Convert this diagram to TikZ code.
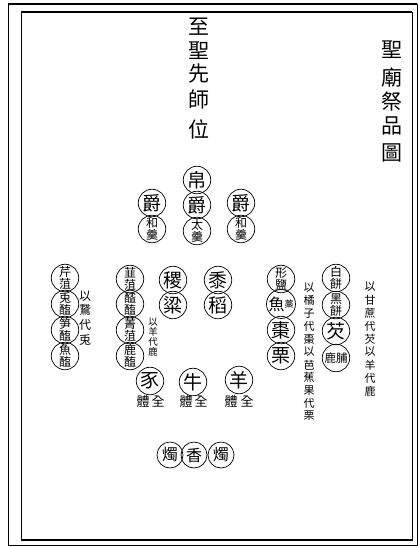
\documentclass[tikz,border=0pt]{standalone}
\usepackage{fontspec}
\newfontfamily\cjk{Noto Sans CJK TC}
\begin{document}
\begin{tikzpicture}[x=1pt,y=-1pt,
  ring/.style={circle,draw,line width=0.7pt,minimum size=27.5pt,inner sep=0pt,align=center},
  big/.style={font=\cjk\fontsize{19}{19}\selectfont},
  mid/.style={font=\cjk\fontsize{16}{16}\selectfont},
  pair/.style={font=\cjk\fontsize{12}{12}\selectfont},
  note/.style={inner sep=0pt,font=\cjk\fontsize{11}{11}\selectfont},
  title/.style={inner sep=0pt,font=\cjk\fontsize{21}{21}\selectfont},
  label/.style={inner sep=0pt,font=\cjk\fontsize{13}{13}\selectfont},
]
\useasboundingbox (0,0) rectangle (418,547);
\fill[white] (0,0) rectangle (418,547);
% frame
\draw[line width=0.8pt] (8,4) rectangle (417,545);
\draw[line width=1.6pt] (8,4) -- (417,4);
\draw[line width=0.8pt] (21,12) rectangle (412,540);
\draw[line width=1.6pt] (21,12) -- (412,12);
\draw[line width=1.6pt] (21,540) -- (412,540);

% titles
\foreach \c/\y [count=\i] in {至/27,聖/51,先/74,師/99,位/129}
  \node[title] (ta\i) at (199,\y) {\c};
\foreach \c/\y [count=\i] in {聖/50,廟/77,祭/102,品/126,圖/153}
  \node[title] (tb\i) at (392,\y) {\c};

% top group
\node[ring,big] (m1) at (197,180) {帛};
\node[ring,big] (m2) at (197,205) {爵};
\node[ring,pair] (m3) at (197,231) {太\\羹};
\node[ring,big] (l1) at (152,203) {爵};
\node[ring,pair] (l2) at (152,229) {和\\羹};
\node[ring,big] (r1) at (241,203) {爵};
\node[ring,pair] (r2) at (241,229) {和\\羹};

% column A
\node[ring,pair] (a1) at (65,278) {芹\\菹};
\node[ring,pair] (a2) at (65,304) {兎\\醢};
\node[ring,pair] (a3) at (65,330) {笋\\醢};
\node[ring,pair] (a4) at (65,356) {魚\\醢};
\foreach \c/\y [count=\i] in {以/296,鵞/310,代/325,兎/340}
  \node[note,font=\cjk\fontsize{12}{12}\selectfont] (na\i) at (85,\y) {\c};

% column B
\node[ring,pair] (b1) at (130,279) {韮\\菹};
\node[ring,pair] (b2) at (130,304) {醓\\醢};
\node[ring,pair] (b3) at (130,330) {菁\\菹};
\node[ring,pair] (b4) at (130,356) {鹿\\醢};
\foreach \c/\y [count=\i] in {以/322,羊/332,代/342,鹿/352}
  \node[note,font=\cjk\fontsize{9.5}{9.5}\selectfont] (nb\i) at (153,\y) {\c};

% grains
\node[ring,big] (g1) at (173,280) {稷};
\node[ring,big] (g2) at (173,305) {粱};
\node[ring,big] (h1) at (218,280) {黍};
\node[ring,big] (h2) at (218,305) {稻};

% column C
\node[ring,pair] (c1) at (281,279) {形\\鹽};
\node[ring] (c2) at (281,304) {{\cjk\fontsize{16}{16}\selectfont 魚}\raisebox{3pt}{\cjk\fontsize{9}{9}\selectfont 藁}};
\node[ring,big] (c3) at (281,330) {棗};
\node[ring,big] (c4) at (281,356) {栗};
\foreach \c [count=\i] in {以,橘,子,代,棗,以,芭,蕉,果,代,栗}
  \node[note] (nc\i) at (309,{288+12.8*(\i-1)}) {\c};

% column D
\node[ring,pair] (d1) at (336,278) {白\\餅};
\node[ring,pair] (d2) at (336,305) {黑\\餅};
\node[ring,big] (d3) at (336,331) {芡};
\node[ring,font=\cjk\fontsize{11.5}{11.5}\selectfont] (d4) at (336,358) {鹿脯};
\foreach \c [count=\i] in {以,甘,蔗,代,芡,以,羊,代,鹿}
  \node[note] (nd\i) at (370,{287+13*(\i-1)}) {\c};

% animals
\node[ring,big] (s1) at (150,381) {豕};
\node[ring,big] (s2) at (193,382) {牛};
\node[ring,big] (s3) at (239,380) {羊};
\node[label] (e1) at (143,402) {體};
\node[label] (f1) at (158,402) {全};
\node[label] (e2) at (186,402) {體};
\node[label] (f2) at (201,402) {全};
\node[label] (e3) at (231,402) {體};
\node[label] (f3) at (247,402) {全};

% candles and incense
\node[ring,mid,minimum size=26pt] (k1) at (170,455) {燭};
\node[ring,mid,minimum size=26pt] (k2) at (194,455) {香};
\node[ring,mid,minimum size=26pt] (k3) at (221,455) {燭};
\end{tikzpicture}
\end{document}
